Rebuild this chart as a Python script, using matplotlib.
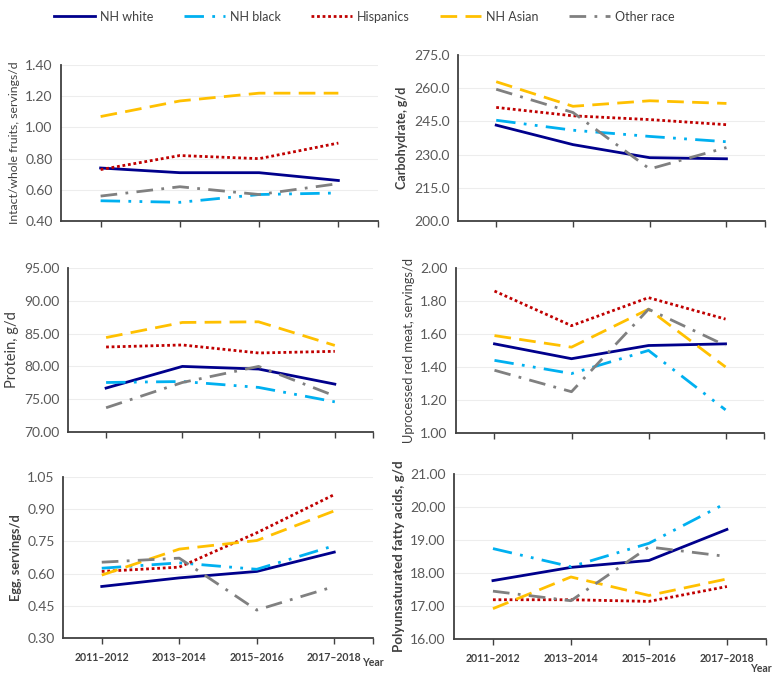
import matplotlib.pyplot as plt

plt.rcParams['font.family'] = ['Lato', 'DejaVu Sans']

years = ['2011\u20132012', '2013\u20132014', '2015\u20132016', '2017\u20132018']
groups = ['NH white', 'NH black', 'Hispanics', 'NH Asian', 'Other race']

# values per panel, order follows groups
fruits = [[0.74, 0.71, 0.71, 0.66],
          [0.53, 0.52, 0.57, 0.58],
          [0.73, 0.82, 0.80, 0.90],
          [1.07, 1.17, 1.22, 1.22],
          [0.56, 0.62, 0.57, 0.64]]
carbs = [[243.3, 234.5, 228.6, 228.1],
         [245.5, 241.0, 238.2, 235.8],
         [251.3, 247.5, 245.8, 243.5],
         [262.9, 251.8, 254.3, 253.1],
         [259.5, 249.0, 223.5, 233.2]]
protein = [[76.7, 80.0, 79.6, 77.3],
           [77.55, 77.7, 76.8, 74.6],
           [82.96, 83.27, 82.05, 82.3],
           [84.4, 86.7, 86.8, 83.2],
           [73.7, 77.55, 80.0, 75.5]]
redmeat = [[1.54, 1.45, 1.53, 1.54],
           [1.44, 1.36, 1.50, 1.14],
           [1.86, 1.65, 1.82, 1.69],
           [1.59, 1.52, 1.75, 1.40],
           [1.38, 1.25, 1.75, 1.53]]
egg = [[0.54, 0.58, 0.61, 0.70],
       [0.625, 0.65, 0.62, 0.73],
       [0.61, 0.63, 0.79, 0.968],
       [0.593, 0.714, 0.754, 0.892],
       [0.653, 0.672, 0.43, 0.54]]
pufa = [[17.77, 18.17, 18.38, 19.32],
        [18.74, 18.19, 18.90, 20.13],
        [17.19, 17.19, 17.14, 17.59],
        [16.92, 17.88, 17.32, 17.82],
        [17.45, 17.16, 18.79, 18.50]]

colors = ['#00008C', '#00B0F0', '#C00000', '#FFC000', '#808080']
styles = ['-', (0, (7, 3, 1, 3, 1, 3)), (0, (1, 1)), (0, (6, 3)), (0, (6, 3, 1, 3))]

# data, label, ymin, ymax, step, format, weight, label size, axes box, Year position
panels = [
    (fruits, 'Intact/whole fruits, servings/d', 0.40, 1.40, 0.20, '%.2f', 'normal', 8.8,
     [0.0786, 0.674, 0.4085, 0.230], None),
    (carbs, 'Carbohydrate, g/d', 200, 275, 15, '%.1f', 'bold', 9.0,
     [0.590, 0.674, 0.3956, 0.245], None),
    (protein, 'Protein, g/d', 70, 95, 5, '%.2f', 'normal', 10.5,
     [0.0876, 0.3628, 0.393, 0.2419], None),
    (redmeat, 'Uprocessed red meat, servings/d', 1.0, 2.0, 0.2, '%.2f', 'normal', 9.3,
     [0.5876, 0.3614, 0.397, 0.2434], None),
    (egg, 'Egg, servings/d', 0.30, 1.05, 0.15, '%.2f', 'bold', 9.2,
     [0.0812, 0.059, 0.3995, 0.2375], (1.0, -0.15)),
    (pufa, 'Polyunsaturated fatty acids, g/d', 16, 21, 1, '%.2f', 'bold', 9.6,
     [0.585, 0.0575, 0.402, 0.2434], (0.984, -0.176)),
]

fig = plt.figure(figsize=(7.76, 6.78), dpi=100)
x = list(range(len(years)))

for data, ylab, lo, hi, step, fmt, wt, lsize, pos, ypos in panels:
    ax = fig.add_axes(pos)
    for i in range(len(groups)):
        ax.plot(x, data[i], color=colors[i], linestyle=styles[i], lw=2.0,
                label=groups[i], zorder=3)
    ax.set_xlim(-0.5, 3.5)
    ax.set_ylim(lo, hi)
    n = int(round((hi - lo) / step))
    yt = [lo + k * step for k in range(n + 1)]
    ax.set_yticks(yt)
    ax.set_yticklabels([fmt % v for v in yt], color='#595959', fontsize=10)
    ax.tick_params(axis='y', length=0, pad=6)
    ax.grid(axis='y', color='#EDEDED', lw=0.8, zorder=0)
    for s in ['top', 'right']:
        ax.spines[s].set_visible(False)
    for s in ['left', 'bottom']:
        ax.spines[s].set_color('#404040')
        ax.spines[s].set_linewidth(1.3)
    ax.set_xticks(x + [3.5])
    if ypos is not None:
        ax.set_xticklabels(years + [''], fontsize=7.6, fontweight='bold', color='#404040')
        ax.text(ypos[0], ypos[1], 'Year', transform=ax.transAxes, ha='center', va='center',
                fontsize=7.6, fontweight='bold', color='#404040')
    else:
        ax.set_xticklabels([''] * 5)
    ax.tick_params(axis='x', length=4, width=1.0, color='#404040', pad=6)
    ax.set_ylabel(ylab, fontsize=lsize, color='#404040', fontweight=wt, labelpad=4)

handles, labels = ax.get_legend_handles_labels()
fig.legend(handles, labels, loc='upper left', bbox_to_anchor=(0.0696, 0.984), ncol=5,
           frameon=False, fontsize=9, handlelength=3.3, columnspacing=2.4,
           handletextpad=0.4, borderpad=0, borderaxespad=0, labelcolor='#404040')

fig.savefig('out.png', dpi=100)
